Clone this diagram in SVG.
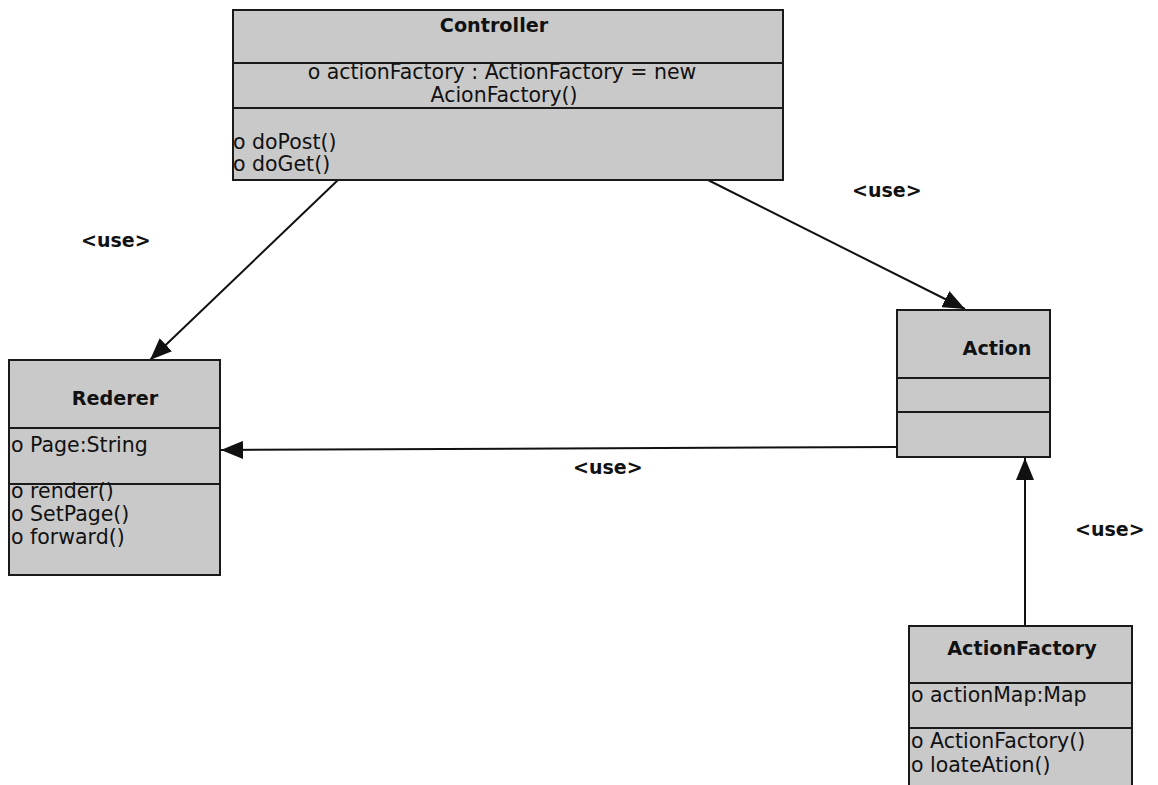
<svg xmlns="http://www.w3.org/2000/svg" width="1158" height="785" viewBox="0 0 1158 785">
<style>
.box{fill:#c9c9c9;stroke:#1a1a1a;stroke-width:2}
.div{stroke:#1a1a1a;stroke-width:2}
.t{font-family:"DejaVu Sans",Verdana,sans-serif;font-weight:bold;font-size:19.2px;fill:#111}
.m{font-family:"DejaVu Sans",Verdana,sans-serif;font-size:20.5px;fill:#111}
.lbl{font-family:"DejaVu Sans",Verdana,sans-serif;font-weight:bold;font-size:19px;fill:#111}
.edge{stroke:#111;stroke-width:2;fill:none;marker-end:url(#arr)}
</style>
<defs>
<marker id="arr" markerUnits="userSpaceOnUse" markerWidth="24" markerHeight="18" refX="22" refY="9" orient="auto">
<path d="M0,0 L22,9 L0,18 Z" fill="#111"/>
</marker>
</defs>
<rect width="1158" height="785" fill="#ffffff"/>
<g id="connectors">
<line class="edge" x1="338" y1="180" x2="150" y2="360"/>
<line class="edge" x1="700" y1="176" x2="965" y2="309"/>
<line class="edge" x1="897" y1="447" x2="221" y2="450"/>
<line class="edge" x1="1025" y1="626" x2="1025" y2="458"/>
<text class="lbl" x="81" y="247">&lt;use&gt;</text>
<text class="lbl" x="852" y="197">&lt;use&gt;</text>
<text class="lbl" x="573" y="474">&lt;use&gt;</text>
<text class="lbl" x="1075" y="536">&lt;use&gt;</text>
</g>
<g id="controller">
<rect class="box" x="233" y="10" width="550" height="170"/>
<line class="div" x1="233" y1="63" x2="783" y2="63"/>
<line class="div" x1="233" y1="108" x2="783" y2="108"/>
<text class="t" x="494" y="32" text-anchor="middle">Controller</text>
<text class="m" x="502" y="79" text-anchor="middle">o actionFactory : ActionFactory = new</text>
<text class="m" x="504" y="102" text-anchor="middle">AcionFactory()</text>
<text class="m" x="233" y="149">o doPost()</text>
<text class="m" x="233" y="171">o doGet()</text>
</g>
<g id="rederer">
<rect class="box" x="9" y="360" width="211" height="215"/>
<line class="div" x1="9" y1="428" x2="220" y2="428"/>
<line class="div" x1="9" y1="484" x2="220" y2="484"/>
<text class="t" x="115" y="405" text-anchor="middle">Rederer</text>
<text class="m" x="11" y="452">o Page:String</text>
<text class="m" x="11" y="498">o render()</text>
<text class="m" x="11" y="521">o SetPage()</text>
<text class="m" x="11" y="544">o forward()</text>
</g>
<g id="action">
<rect class="box" x="897" y="310" width="153" height="147"/>
<line class="div" x1="897" y1="378" x2="1050" y2="378"/>
<line class="div" x1="897" y1="412" x2="1050" y2="412"/>
<text class="t" x="997" y="355" text-anchor="middle">Action</text>
</g>
<g id="actionfactory">
<rect class="box" x="909" y="626" width="223" height="170"/>
<line class="div" x1="909" y1="683" x2="1132" y2="683"/>
<line class="div" x1="909" y1="728" x2="1132" y2="728"/>
<text class="t" x="1022" y="655" text-anchor="middle">ActionFactory</text>
<text class="m" x="911" y="702">o actionMap:Map</text>
<text class="m" x="911" y="748">o ActionFactory()</text>
<text class="m" x="911" y="772">o loateAtion()</text>
</g>
</svg>
